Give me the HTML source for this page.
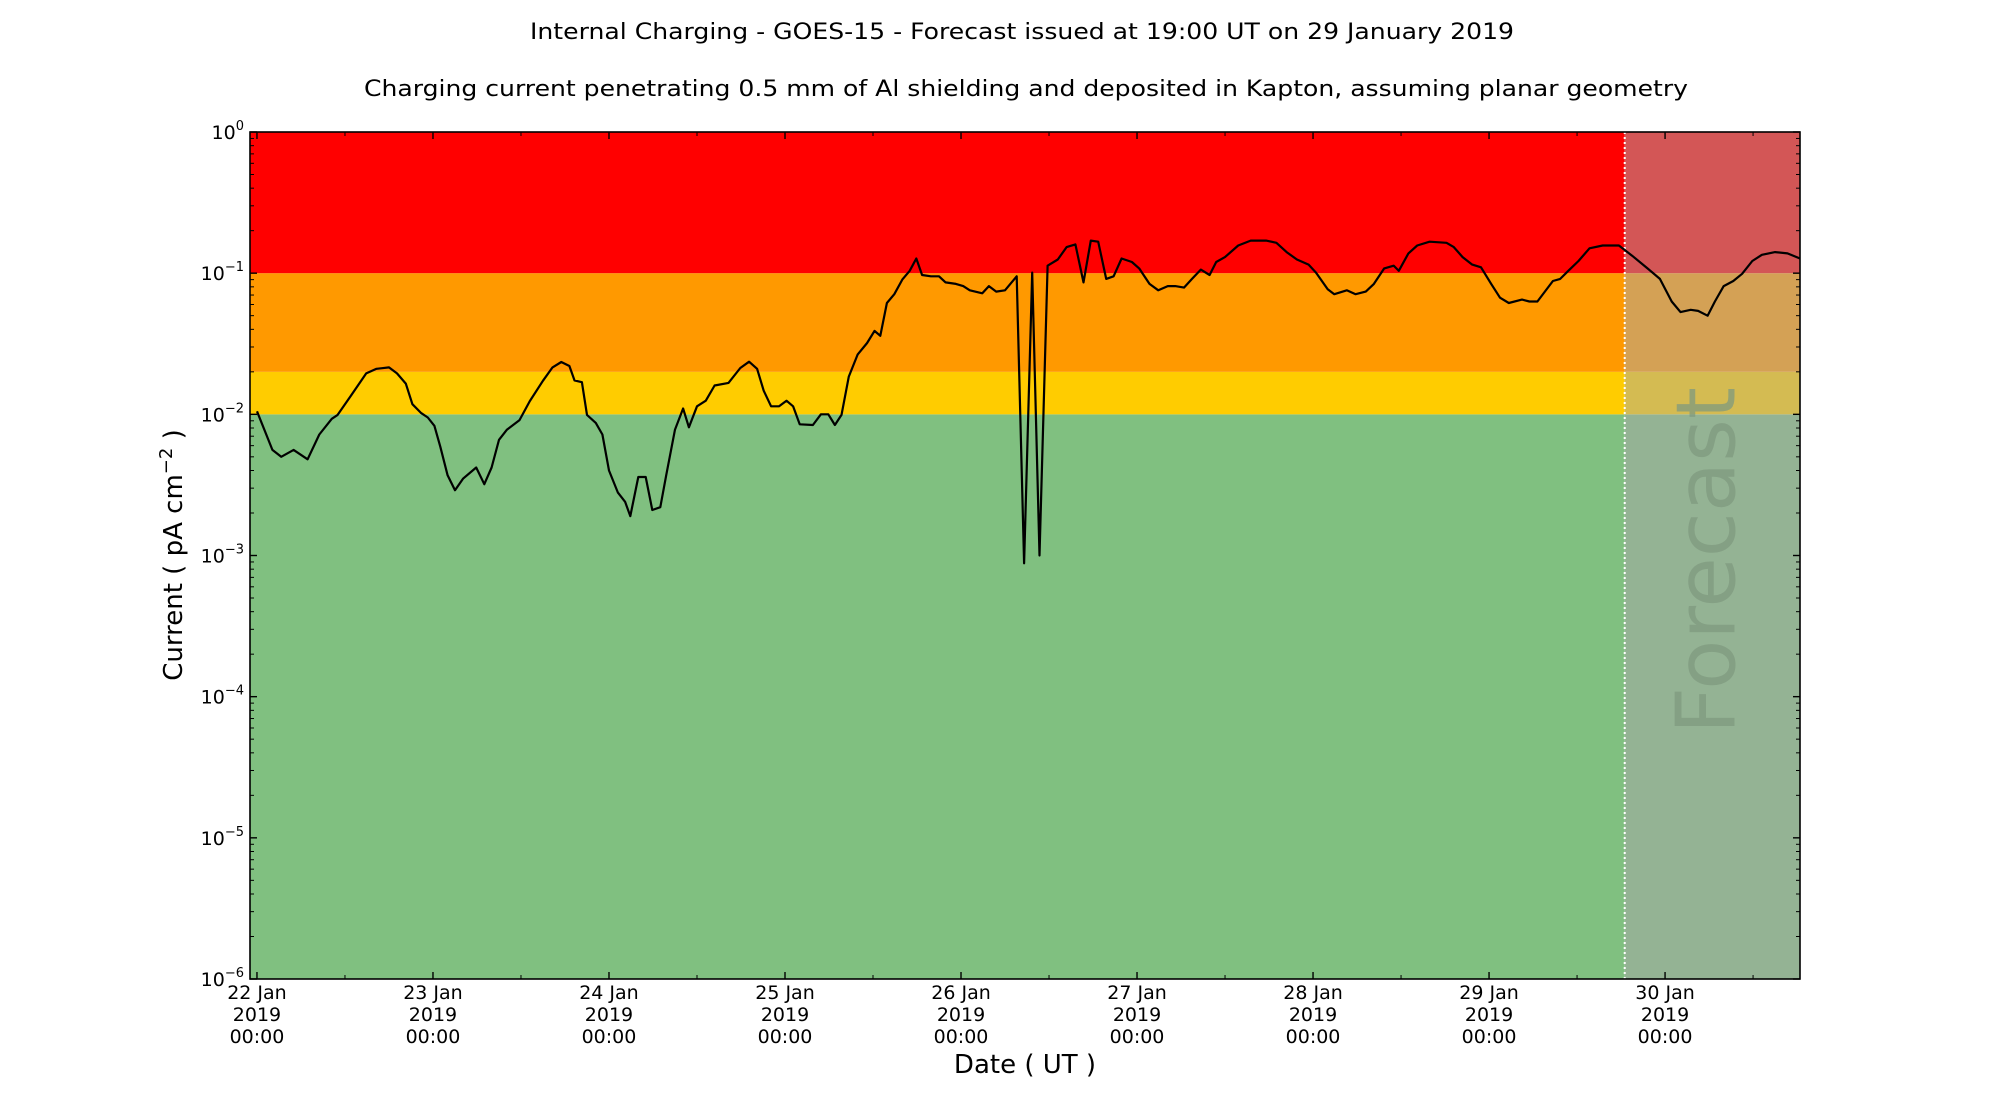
<!DOCTYPE html>
<html><head><meta charset="utf-8"><style>
html,body{margin:0;padding:0;background:#fff;width:2000px;height:1100px;overflow:hidden}
svg text{font-family:"DejaVu Sans","Liberation Sans",sans-serif}
</style></head><body>
<svg id="chart" width="2000" height="1100" viewBox="0 0 2000 1100" xmlns="http://www.w3.org/2000/svg">
<text x="1022" y="39" font-size="22" text-anchor="middle" textLength="984" lengthAdjust="spacingAndGlyphs">Internal Charging - GOES-15 - Forecast issued at 19:00 UT on 29 January 2019</text>
<text x="1026" y="96" font-size="22" text-anchor="middle" textLength="1324" lengthAdjust="spacingAndGlyphs">Charging current penetrating 0.5 mm of Al shielding and deposited in Kapton, assuming planar geometry</text>
<g id="bands"></g>
<g id="forecast"></g>
<g id="ticks"></g>
<path id="series" fill="none" stroke="#000" stroke-width="2.2" stroke-linejoin="round"/>
<rect x="250" y="132" width="1550" height="847" fill="none" stroke="#000" stroke-width="1.6"/>
<text transform="translate(182,555) rotate(-90)" font-size="26" text-anchor="middle">Current ( pA cm<tspan font-size="18" dy="-10">−2</tspan><tspan dy="10"> )</tspan></text>
<text x="1025" y="1073" font-size="26" text-anchor="middle">Date ( UT )</text>
</svg>
<script>
const hours=[0,2.1,3.3,5,6.9,8.5,10.2,11,12.8,14.9,16.3,18,19.1,20.3,21.2,22.4,23.3,24.2,25,26,27,28.1,29.9,31,32,33,34.1,35.8,37.2,39,40.3,41.5,42.6,43.3,44.3,45,46.2,47.1,48,49.2,50.2,50.9,52,53,53.9,55,55.8,57,58.1,58.9,60,61.2,62.4,64.3,65.9,67.1,68.2,69.1,70.1,71.2,72.2,73.1,74,75.8,76.9,77.9,78.8,79.7,80.7,81.9,83.2,84.2,85,85.9,86.9,88,89,89.9,90.7,91.9,93,93.9,95.3,96.3,97.2,98.9,99.8,100.8,102,103.6,104.6,105.7,106.7,107.8,109.2,110.4,111.6,112.7,113.7,114.7,115.8,116.8,117.9,119.3,120.3,121.7,122.9,124.2,125.2,126.4,127.5,128.7,129.9,130.8,132,133.8,135.5,137.6,139,140.4,141.8,143.4,144.4,146,146.9,148.6,149.8,151.2,152.3,153.7,155,155.7,157,158.2,159.9,162.2,163.2,164.4,165.7,166.9,168.3,169.5,170.7,172.5,173.5,174.6,176.7,177.7,178.8,180.2,181.7,183.5,185.7,187.5,189.6,191.3,192.9,194.1,195.5,196.5,197.8,198.8,200,201.3,202.5,203.9,205.2,207,208.7,210.4];
const currents=[0.0105,0.0056,0.005,0.0056,0.0048,0.0072,0.0093,0.0099,0.0135,0.0195,0.021,0.0215,0.0195,0.0165,0.0118,0.0102,0.0095,0.0083,0.0059,0.0037,0.0029,0.0035,0.0042,0.0032,0.0042,0.0066,0.0078,0.0091,0.0124,0.0173,0.0215,0.0235,0.022,0.0174,0.0169,0.0099,0.0087,0.0072,0.004,0.0028,0.0024,0.0019,0.0036,0.0036,0.0021,0.0022,0.0037,0.0078,0.011,0.0081,0.0114,0.0125,0.016,0.0167,0.0213,0.0236,0.021,0.0147,0.0114,0.0114,0.0125,0.0114,0.0085,0.0084,0.01,0.01,0.0084,0.0099,0.0185,0.0265,0.032,0.039,0.036,0.0615,0.071,0.09,0.104,0.127,0.097,0.095,0.095,0.086,0.084,0.081,0.0756,0.072,0.081,0.074,0.0756,0.095,0.00088,0.101,0.001,0.113,0.125,0.153,0.16,0.086,0.17,0.167,0.091,0.095,0.127,0.12,0.108,0.084,0.0756,0.081,0.081,0.079,0.091,0.106,0.097,0.12,0.13,0.157,0.17,0.17,0.164,0.141,0.125,0.115,0.101,0.077,0.071,0.0756,0.071,0.074,0.084,0.108,0.113,0.104,0.138,0.157,0.167,0.164,0.153,0.13,0.115,0.11,0.084,0.067,0.0615,0.065,0.063,0.063,0.088,0.091,0.104,0.122,0.15,0.157,0.157,0.133,0.108,0.091,0.063,0.053,0.055,0.054,0.05,0.063,0.081,0.088,0.099,0.122,0.135,0.141,0.138,0.127];
const bandEdges=[1e-6,0.01,0.02,0.1,1];
const bandColors=['#80c080','#ffcc00','#ff9900','#ff0000'];
const forecastColors=['#94b394','#d4bb52','#d4a155','#d35656'];
const forecastStartHour=186.5;
const dayLabels=['22 Jan','23 Jan','24 Jan','25 Jan','26 Jan','27 Jan','28 Jan','29 Jan','30 Jan'];
const yExponents=[0,-1,-2,-3,-4,-5,-6];

const L=250,R=1800,T=132,B=979;
const H0=-0.95,H1=210.4;
function xS(h){return L+(h-H0)/(H1-H0)*(R-L);}
function yS(v){return T+(0-Math.log10(v))/6*(B-T);}
const NS='http://www.w3.org/2000/svg';
function mk(tag,attrs,parent){const e=document.createElementNS(NS,tag);for(const k in attrs)e.setAttribute(k,attrs[k]);parent.appendChild(e);return e;}

const bands=document.getElementById('bands');
const fc=document.getElementById('forecast');
const xf=xS(forecastStartHour);
for(let i=0;i<bandColors.length;i++){
  const y1=yS(bandEdges[i+1]),y0=yS(bandEdges[i]);
  const r=mk('rect',{x:L,y:y1,width:xf-L,height:y0-y1,fill:bandColors[i]},bands);
  
  
  const f=mk('rect',{x:xf,y:y1,width:R-xf,height:y0-y1,fill:forecastColors[i]},fc);
  
  
}
const fl=mk('line',{x1:xf,y1:T,x2:xf,y2:B,stroke:'#fff','stroke-width':2,'stroke-dasharray':'2,3'},fc);


const ft=mk('text',{transform:`translate(${(xf+R)/2+22},${(T+B)/2+5}) rotate(-90)`,'font-size':82,'text-anchor':'middle',fill:'#7f9a7f','fill-opacity':'0.75'},fc);
ft.textContent='Forecast';



const tk=document.getElementById('ticks');
yExponents.forEach(e=>{
  const y=yS(Math.pow(10,e));
  mk('line',{x1:L,y1:y,x2:L+7,y2:y,stroke:'#000','stroke-width':1.4},tk);
  mk('line',{x1:R,y1:y,x2:R-7,y2:y,stroke:'#000','stroke-width':1.4},tk);
  const t=mk('text',{x:L-6,y:y+7,'font-size':19,'text-anchor':'end'},tk);
  
  
  t.innerHTML='10<tspan font-size="13" dy="-9">'+(e===0?'0':'−'+(-e))+'</tspan>';
  if(e>-6){for(let m=2;m<10;m++){const ym=yS(m*Math.pow(10,e-1));
    mk('line',{x1:L,y1:ym,x2:L+4,y2:ym,stroke:'#000','stroke-width':1},tk);
    mk('line',{x1:R,y1:ym,x2:R-4,y2:ym,stroke:'#000','stroke-width':1},tk);}}
});
dayLabels.forEach((d,i)=>{
  const x=xS(i*24);
  mk('line',{x1:x,y1:B,x2:x,y2:B-7,stroke:'#000','stroke-width':1.4},tk);
  mk('line',{x1:x,y1:T,x2:x,y2:T+7,stroke:'#000','stroke-width':1.4},tk);
  const xm=xS(i*24+12);
  if(xm<R){mk('line',{x1:xm,y1:B,x2:xm,y2:B-4,stroke:'#000','stroke-width':1},tk);
    mk('line',{x1:xm,y1:T,x2:xm,y2:T+4,stroke:'#000','stroke-width':1},tk);}
  [d,'2019','00:00'].forEach((s,j)=>{
    const t=mk('text',{x:x,y:999+j*22,'font-size':19,'text-anchor':'middle'},tk);
    t.textContent=s;
    
    
  });
});
document.getElementById('series').setAttribute('d',hours.map((h,i)=>(i?'L':'M')+xS(h).toFixed(1)+','+yS(currents[i]).toFixed(1)).join(' '));
</script>
</body></html>
